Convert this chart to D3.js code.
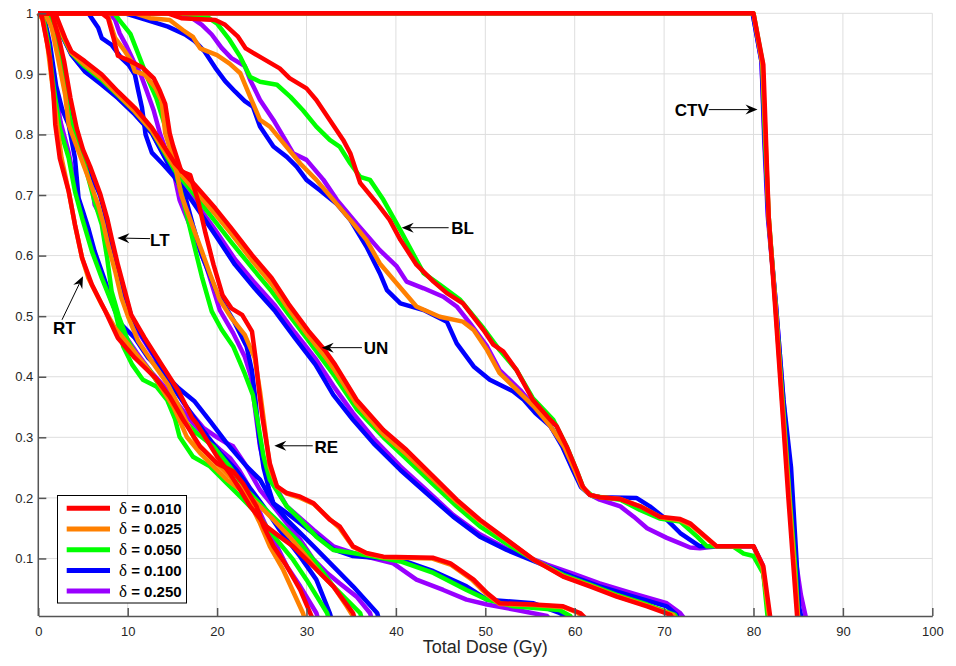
<!DOCTYPE html>
<html>
<head>
<meta charset="utf-8">
<script src="https://cdn.jsdelivr.net/npm/d3@7"></script>
<style>
  body { margin: 0; background: #fff; }
  svg { display: block; font-family: Arial, "Liberation Sans", Helvetica, sans-serif; }
</style>
</head>
<body>
<svg id="chart" width="956" height="666"></svg>
<script>
// Cumulative dose-volume histograms: [total dose (Gy), volume fraction]
// One array per structure and per delta value.

// ---- CTV ----
const CTV_d010 = [[0,1],[80,1],[81.1,0.915],[81.4,0.79],[81.7,0.664],[82.4,0.52],[83.15,0.362],[83.9,0.2],[84.5,0.08],[84.9,0]];
const CTV_d025 = [[0,1],[80,1],[81.0,0.915],[81.35,0.79],[81.7,0.664],[82.45,0.52],[83.2,0.362],[84.0,0.2],[84.6,0.08],[85.0,0]];
const CTV_d050 = [[0,1],[80,1],[81.0,0.92],[81.3,0.79],[81.7,0.664],[82.45,0.52],[83.25,0.362],[84.05,0.2],[84.7,0.08],[85.0,0]];
const CTV_d100 = [[0,1],[79.9,1],[80.9,0.92],[81.25,0.79],[81.65,0.664],[82.5,0.52],[83.35,0.362],[84.2,0.25],[84.8,0.1],[85.1,0.02],[85.4,0]];
const CTV_d250 = [[0,1],[79.9,1],[80.9,0.92],[81.2,0.79],[81.6,0.664],[82.5,0.52],[83.35,0.362],[84.1,0.22],[84.7,0.1],[85.3,0.04],[85.9,0]];

// ---- BL ----
const BL_d010 = [[0,1],[14.5,1],[16.0,0.992],[19.8,0.989],[20.9,0.981],[22.3,0.962],[23.2,0.942],[24.8,0.928],[27,0.909],[28.1,0.893],[30,0.876],[31.1,0.857],[32.6,0.824],[34.1,0.791],[34.9,0.769],[36,0.72],[37.9,0.686],[39.3,0.659],[40.5,0.626],[42.3,0.585],[44.2,0.557],[45.7,0.538],[47.5,0.521],[49.8,0.477],[50.9,0.453],[52,0.442],[53.5,0.411],[55.3,0.362],[57.2,0.33],[58,0.318],[59.1,0.285],[60.2,0.246],[60.9,0.219],[61.7,0.205],[62.8,0.201],[65.1,0.198],[67.3,0.186],[69.5,0.169],[71.8,0.165],[72.9,0.158],[75.9,0.12],[80,0.12],[81.1,0.087],[81.9,0]];
const BL_d025 = [[0,1],[10.8,1],[12.5,0.992],[14.7,0.989],[16.2,0.972],[17.3,0.961],[18.1,0.942],[20.0,0.931],[21.4,0.917],[22.6,0.901],[23.7,0.862],[24.8,0.824],[25.9,0.813],[27.4,0.786],[29.3,0.752],[31.1,0.725],[33.0,0.692],[34.9,0.659],[36.7,0.626],[38.2,0.587],[40.1,0.554],[42.3,0.516],[44.9,0.499],[47.5,0.491],[48.7,0.477],[50.2,0.444],[51.6,0.406],[53.9,0.373],[55.5,0.35],[57.3,0.318],[58.8,0.285],[60.0,0.246],[60.8,0.218],[61.7,0.205],[62.8,0.201],[65.1,0.198],[67.5,0.185],[69.6,0.168],[71.8,0.163],[73.0,0.155],[75.8,0.12],[80,0.12],[81,0.087],[81.8,0]];
const BL_d050 = [[0,1],[15.7,1],[18.8,0.995],[20.0,0.983],[21.4,0.956],[22.6,0.928],[23.7,0.895],[24.8,0.887],[26.7,0.882],[28.2,0.862],[29.6,0.84],[31.1,0.813],[32.6,0.791],[33.7,0.78],[34.9,0.752],[36.0,0.73],[37.1,0.725],[38.6,0.692],[40.5,0.642],[43.1,0.571],[44.9,0.552],[47.2,0.527],[49.8,0.48],[51.6,0.444],[53.5,0.411],[55.3,0.365],[57.6,0.329],[59.1,0.285],[60.2,0.246],[61,0.215],[62,0.203],[65.1,0.197],[67.3,0.18],[69.5,0.166],[71.8,0.161],[73.7,0.136],[74.8,0.12],[77.7,0.12],[78.9,0.108],[80.0,0.104],[81.1,0.075],[81.6,0]];
const BL_d100 = [[0,1],[9.7,1],[11.9,0.99],[14.5,0.978],[16.4,0.965],[17.5,0.954],[18.6,0.937],[19.8,0.91],[20.9,0.888],[22.0,0.871],[23.1,0.855],[24.0,0.846],[24.8,0.813],[26.3,0.78],[27.8,0.763],[28.9,0.747],[30.0,0.725],[31.5,0.708],[33.4,0.685],[34.9,0.659],[36.7,0.615],[38.2,0.571],[39.0,0.543],[40.5,0.521],[43.1,0.51],[45.7,0.491],[46.8,0.455],[48.7,0.417],[50.5,0.395],[53.1,0.376],[54.3,0.362],[55.6,0.34],[57.3,0.318],[58.6,0.285],[59.8,0.246],[60.7,0.218],[61.7,0.205],[62.8,0.201],[66.9,0.2],[68.4,0.186],[70.3,0.164],[71.8,0.142],[74,0.12],[80,0.12],[81,0.087],[81.8,0]];
const BL_d250 = [[0,1],[15.5,1],[17.2,0.992],[18.3,0.981],[19.4,0.965],[20.5,0.943],[21.6,0.926],[23.1,0.913],[23.7,0.89],[24.8,0.857],[26.3,0.824],[28.5,0.769],[30.0,0.758],[31.9,0.725],[33.4,0.692],[35.6,0.653],[38.2,0.609],[40.1,0.582],[41.2,0.557],[43.1,0.546],[45.3,0.532],[46.8,0.516],[48.3,0.488],[50.2,0.45],[51.6,0.411],[53.9,0.378],[55.5,0.35],[57.3,0.318],[58.8,0.285],[60.0,0.246],[60.8,0.218],[61.7,0.205],[62.8,0.197],[65.1,0.186],[66.6,0.169],[68.1,0.15],[70.3,0.134],[71.8,0.125],[72.9,0.118],[74.0,0.117],[76,0.12],[80,0.12],[81,0.09],[81.8,0]];

// ---- UN ----
const UN_d010 = [[0,1],[1.9,1],[3.0,0.959],[3.7,0.937],[5.2,0.921],[7.1,0.899],[8.9,0.871],[10.8,0.844],[12.7,0.811],[15.3,0.752],[17.5,0.717],[19.8,0.678],[21.6,0.645],[23.9,0.601],[26.1,0.563],[28.0,0.52],[30.2,0.476],[32.1,0.443],[33.2,0.42],[35.6,0.362],[38.6,0.312],[41.2,0.279],[44.2,0.235],[46.8,0.197],[49.4,0.164],[52.4,0.131],[55.4,0.098],[58.7,0.07],[61.7,0.054],[64.7,0.037],[68.1,0.021],[70.7,0.007],[71.0,0]];
const UN_d025 = [[0,1],[1.7,1],[2.8,0.962],[3.7,0.935],[5.2,0.915],[7.1,0.893],[8.9,0.866],[10.8,0.838],[12.7,0.806],[15.3,0.745],[17.5,0.708],[19.8,0.668],[21.6,0.636],[23.9,0.592],[26.1,0.553],[28.0,0.512],[30.2,0.468],[32.1,0.433],[33.2,0.41],[35.6,0.355],[38.6,0.305],[41.2,0.272],[44.2,0.23],[46.8,0.194],[49.4,0.162],[52.4,0.13],[55.4,0.098],[58.7,0.071],[61.7,0.055],[64.7,0.038],[68.1,0.022],[71.0,0.007],[71.3,0]];
const UN_d050 = [[0,1],[1.6,1],[2.7,0.963],[3.7,0.934],[5.2,0.912],[7.1,0.89],[8.9,0.865],[10.8,0.838],[12.7,0.806],[15.3,0.74],[17.5,0.7],[19.8,0.656],[21.6,0.622],[23.9,0.58],[26.1,0.541],[28.0,0.503],[30.2,0.46],[32.1,0.422],[33.2,0.4],[35.6,0.347],[38.6,0.3],[41.2,0.264],[44.2,0.222],[46.8,0.186],[49.4,0.153],[52.4,0.124],[55.4,0.098],[58.7,0.073],[61.7,0.057],[64.7,0.04],[68.1,0.024],[71.2,0.007],[71.5,0]];
const UN_d100 = [[0,1],[1.5,1],[2.6,0.965],[3.7,0.932],[5.2,0.904],[7.1,0.882],[8.9,0.86],[10.8,0.833],[12.7,0.802],[15.3,0.73],[17.5,0.684],[19.8,0.634],[22.0,0.585],[24.2,0.546],[26.5,0.508],[28.7,0.464],[31.0,0.42],[33.0,0.37],[35.2,0.329],[37.5,0.29],[40.5,0.246],[43.4,0.208],[46.4,0.169],[49.4,0.136],[52.4,0.114],[56.9,0.087],[59.8,0.07],[62.8,0.054],[66.6,0.037],[70.3,0.021],[71.4,0.007],[71.6,0]];
const UN_d250 = [[0,1],[1.5,1],[2.6,0.965],[3.7,0.932],[5.2,0.905],[7.1,0.884],[8.9,0.861],[10.8,0.834],[12.7,0.803],[15.3,0.733],[17.5,0.69],[19.8,0.642],[22.0,0.594],[24.2,0.555],[26.5,0.517],[28.7,0.473],[31.0,0.43],[33.0,0.385],[35.2,0.34],[37.5,0.298],[40.5,0.252],[43.4,0.213],[46.4,0.172],[49.4,0.14],[52.4,0.116],[56.9,0.09],[59.8,0.075],[62.8,0.059],[66.6,0.042],[70.3,0.026],[71.8,0.01],[72.3,0]];

// ---- RE ----
const RE_d010 = [[0,1],[7.1,1],[7.8,0.992],[8.4,0.96],[8.9,0.93],[10.3,0.921],[11.7,0.91],[12.9,0.893],[13.6,0.872],[14.2,0.85],[14.7,0.802],[15.1,0.78],[16.0,0.739],[17.0,0.733],[17.9,0.689],[18.7,0.637],[19.6,0.585],[20.6,0.535],[21.6,0.513],[22.8,0.502],[23.9,0.475],[24.3,0.431],[24.7,0.376],[25.1,0.33],[25.9,0.257],[26.7,0.219],[27.8,0.208],[29.3,0.202],[30.8,0.191],[32.6,0.164],[33.7,0.153],[35.2,0.12],[36.7,0.109],[38.6,0.103],[44.2,0.101],[46.1,0.092],[48.7,0.065],[50.2,0.043],[51.6,0.026],[55.4,0.024],[58.7,0.021],[60.6,0.01],[61.3,0]];
const RE_d025 = [[0,1],[7.5,1],[7.8,0.995],[8.6,0.959],[9.7,0.937],[10.4,0.921],[10.8,0.904],[11.9,0.899],[13.1,0.877],[13.8,0.855],[14.2,0.802],[15.3,0.75],[16.0,0.7],[17.2,0.651],[18.3,0.607],[19.2,0.57],[20.3,0.527],[21.6,0.497],[23.1,0.469],[24.2,0.431],[24.8,0.376],[25.3,0.32],[25.9,0.25],[26.7,0.218],[27.8,0.207],[29.3,0.2],[30.8,0.19],[32.6,0.165],[33.7,0.15],[35.2,0.119],[36.7,0.108],[38.6,0.102],[44.0,0.1],[46.1,0.09],[48.5,0.065],[50.0,0.043],[51.6,0.025],[55.4,0.023],[58.7,0.02],[60.4,0.01],[61.0,0]];
const RE_d050 = [[0,1],[8.5,1],[9.0,0.99],[10.3,0.966],[11.2,0.932],[12.3,0.89],[13.2,0.86],[14.2,0.813],[15.0,0.769],[15.6,0.725],[16.4,0.68],[17.3,0.625],[18.3,0.565],[19.4,0.508],[20.5,0.478],[21.8,0.45],[23.1,0.405],[24.0,0.37],[24.5,0.33],[25.2,0.268],[25.9,0.23],[27.8,0.186],[29.3,0.164],[31.1,0.136],[33.0,0.114],[35.2,0.109],[37.5,0.103],[40.5,0.095],[44.2,0.076],[47.9,0.048],[50.2,0.032],[53.1,0.021],[58.3,0.015],[59.5,0.005],[59.7,0]];
const RE_d100 = [[0,1],[5.6,1],[6.7,0.976],[7.1,0.959],[8.2,0.948],[9.3,0.926],[10.1,0.915],[10.8,0.899],[11.2,0.871],[11.6,0.844],[12.0,0.8],[12.7,0.77],[14.0,0.75],[15.2,0.73],[16.3,0.705],[17.3,0.65],[18.3,0.6],[20.0,0.538],[21.8,0.494],[23.3,0.45],[23.9,0.41],[24.3,0.36],[24.7,0.3],[25.2,0.25],[25.8,0.215],[26.3,0.191],[27.8,0.175],[29.3,0.158],[31.5,0.133],[33.0,0.115],[35.2,0.104],[40.5,0.098],[44.2,0.079],[47.9,0.054],[50.2,0.032],[55.4,0.026],[58.3,0.01],[59.6,0]];
const RE_d250 = [[0,1],[8.0,1],[8.6,0.989],[9.1,0.967],[9.9,0.945],[10.6,0.923],[11.4,0.901],[12.1,0.873],[12.9,0.84],[13.6,0.802],[14.4,0.769],[15.1,0.741],[15.8,0.692],[17.3,0.637],[18.8,0.582],[20.3,0.51],[21.8,0.472],[23.1,0.433],[23.8,0.4],[24.3,0.34],[24.8,0.285],[25.5,0.241],[26.3,0.224],[27.8,0.186],[30.8,0.147],[33.0,0.12],[35.2,0.109],[36.7,0.103],[39.7,0.092],[42.3,0.065],[45.3,0.048],[47.9,0.032],[50.2,0.024],[53.5,0.015],[56.9,0.005],[57.2,0]];

// ---- LT ----
const LT_d010 = [[0,1],[1.5,1],[2.2,0.965],[2.9,0.92],[3.6,0.86],[4.3,0.81],[5.0,0.775],[5.8,0.747],[6.9,0.703],[7.7,0.662],[8.2,0.629],[8.9,0.585],[9.7,0.541],[10.4,0.502],[11.9,0.464],[13.8,0.42],[15.7,0.376],[17.2,0.332],[17.7,0.323],[20.0,0.268],[21.4,0.241],[22.6,0.213],[23.7,0.186],[25.5,0.153],[27.0,0.136],[28.5,0.12],[30.0,0.098],[31.5,0.076],[33.0,0.054],[35.2,0.01],[35.4,0]];
const LT_d025 = [[0,1],[0.75,1],[1.5,0.976],[2.2,0.926],[3.0,0.866],[3.4,0.816],[4.5,0.772],[5.6,0.728],[6.7,0.684],[7.3,0.651],[7.8,0.618],[8.6,0.574],[9.3,0.53],[10.1,0.497],[11.2,0.458],[12.7,0.425],[14.5,0.387],[16.0,0.343],[17.7,0.29],[20.0,0.257],[21.8,0.23],[22.9,0.213],[24.8,0.186],[26.3,0.164],[28.1,0.136],[30.0,0.103],[31.5,0.076],[33.0,0.054],[34.5,0.021],[35.4,0]];
const LT_d050 = [[0,1],[1.2,1],[2.0,0.96],[2.7,0.9],[3.5,0.83],[4.3,0.79],[5.2,0.75],[6.3,0.689],[7.1,0.651],[7.7,0.596],[8.2,0.541],[9.0,0.5],[10.0,0.46],[11.2,0.43],[12.5,0.41],[14.0,0.375],[15.5,0.34],[17.7,0.307],[19.6,0.285],[21.4,0.252],[23.3,0.213],[25.5,0.18],[27.4,0.153],[29.3,0.125],[31.1,0.092],[33.0,0.054],[36.0,0.01],[36.2,0]];
const LT_d100 = [[0,1],[1.0,1],[1.8,0.965],[2.5,0.92],[3.2,0.86],[3.9,0.81],[4.8,0.775],[5.9,0.735],[6.9,0.7],[7.6,0.66],[8.2,0.62],[8.9,0.58],[9.6,0.54],[10.4,0.5],[11.7,0.465],[13.4,0.425],[15.0,0.385],[16.6,0.35],[18.5,0.31],[20.3,0.275],[22.2,0.245],[24.0,0.21],[25.5,0.18],[27.0,0.147],[29.3,0.103],[31.1,0.065],[32.6,0.01],[32.8,0]];
const LT_d250 = [[0,1],[1.3,1],[2.1,0.965],[2.8,0.91],[3.6,0.85],[4.4,0.79],[5.3,0.75],[6.0,0.72],[6.3,0.684],[7.1,0.662],[7.8,0.629],[8.6,0.596],[9.3,0.552],[9.7,0.519],[10.5,0.49],[11.8,0.46],[13.5,0.42],[15.2,0.38],[16.8,0.345],[18.5,0.315],[20.0,0.3],[21.1,0.29],[21.8,0.285],[23.3,0.252],[24.8,0.213],[26.3,0.186],[27.8,0.158],[29.3,0.131],[30.8,0.098],[32.3,0.076],[33.7,0.059],[35.6,0.037],[37.1,0.01],[37.3,0]];

// ---- RT ----
const RT_d010 = [[0,1],[0.4,0.995],[0.8,0.965],[1.3,0.926],[1.7,0.866],[1.9,0.816],[2.4,0.761],[3.4,0.706],[4.1,0.651],[4.9,0.596],[6.0,0.552],[7.5,0.508],[8.9,0.464],[10.8,0.431],[13.1,0.398],[14.7,0.367],[16.2,0.329],[18.1,0.285],[20.0,0.257],[21.8,0.244],[22.9,0.224],[24.4,0.186],[25.2,0.153],[26.3,0.12],[27.8,0.087],[29.3,0.048],[30.4,0.01],[30.7,0]];
const RT_d025 = [[0,1],[0.5,0.99],[1.0,0.95],[1.5,0.89],[2.1,0.816],[2.6,0.761],[3.4,0.706],[4.1,0.651],[4.9,0.596],[5.6,0.563],[7.1,0.519],[8.6,0.48],[10.1,0.453],[11.9,0.42],[13.2,0.395],[15.1,0.351],[16.6,0.301],[18.1,0.274],[19.6,0.252],[21.1,0.23],[22.6,0.213],[23.7,0.191],[24.8,0.158],[25.9,0.12],[27.4,0.081],[29.6,0.01],[29.8,0]];
const RT_d050 = [[0,1],[0.6,0.99],[1.1,0.95],[1.7,0.88],[2.4,0.81],[3.4,0.761],[4.1,0.706],[4.9,0.662],[6.0,0.607],[7.1,0.563],[8.6,0.508],[9.5,0.45],[10.5,0.42],[11.7,0.395],[13.2,0.384],[14.4,0.362],[15.3,0.33],[15.8,0.301],[17.3,0.268],[19.2,0.252],[21.1,0.224],[22.6,0.202],[24.4,0.175],[25.5,0.153],[27.0,0.125],[28.5,0.098],[30.0,0.065],[32.3,0.01],[32.5,0]];
const RT_d100 = [[0,1],[0.7,0.99],[1.3,0.95],[2.0,0.88],[2.7,0.84],[3.4,0.816],[4.1,0.761],[4.5,0.695],[5.0,0.673],[5.6,0.645],[6.3,0.607],[7.5,0.557],[8.4,0.519],[8.6,0.508],[9.3,0.486],[10.8,0.464],[12.3,0.431],[14.2,0.403],[15.7,0.381],[17.5,0.359],[19.3,0.325],[21.1,0.29],[23.3,0.252],[24.8,0.23],[26.3,0.191],[27.8,0.164],[30.8,0.12],[33.0,0.087],[35.2,0.054],[37.9,0.01],[38.1,0]];
const RT_d250 = [[0,1],[0.6,0.99],[1.2,0.95],[1.8,0.88],[2.5,0.82],[3.4,0.77],[4.2,0.71],[5.0,0.665],[6.1,0.61],[7.3,0.56],[8.6,0.51],[9.6,0.47],[11.0,0.44],[12.5,0.41],[14.0,0.385],[15.6,0.355],[17.2,0.325],[18.8,0.3],[20.3,0.28],[21.5,0.265],[22.5,0.245],[23.5,0.22],[24.5,0.185],[25.5,0.153],[26.7,0.12],[27.8,0.087],[29.3,0.054],[31.1,0.01],[31.3,0]];

// ---- legend / series definitions ----
const deltaLabels = ["0.010", "0.025", "0.050", "0.100", "0.250"];
const deltaColors = ["#ff0000", "#ff8000", "#00ff00", "#0000ff", "#9900ff"];
const structureNames = ["CTV", "BL", "UN", "RE", "LT", "RT"];
const xTicks = [0, 10, 20, 30, 40, 50, 60, 70, 80, 90, 100];
const yTicks = [0.1, 0.2, 0.3, 0.4, 0.5, 0.6, 0.7, 0.8, 0.9, 1];
const yTickLabels = ["0.1", "0.2", "0.3", "0.4", "0.5", "0.6", "0.7", "0.8", "0.9", "1"];

// curves per structure, ordered like deltaLabels
const curvesByStructure = {
  CTV: [CTV_d010, CTV_d025, CTV_d050, CTV_d100, CTV_d250],
  BL:  [BL_d010,  BL_d025,  BL_d050,  BL_d100,  BL_d250],
  UN:  [UN_d010,  UN_d025,  UN_d050,  UN_d100,  UN_d250],
  RE:  [RE_d010,  RE_d025,  RE_d050,  RE_d100,  RE_d250],
  LT:  [LT_d010,  LT_d025,  LT_d050,  LT_d100,  LT_d250],
  RT:  [RT_d010,  RT_d025,  RT_d050,  RT_d100,  RT_d250]
};

// structure labels with arrows: label position, arrow tail and arrow tip in data units
const labelText   = ["CTV", "BL", "UN", "RE", "LT", "RT"];
const labelAnchor = [[71.2, 0.841], [46.2, 0.646], [36.4, 0.448], [30.9, 0.285], [12.5, 0.626], [2.9, 0.481]];
const arrowTail   = [[75.0, 0.841], [45.9, 0.646], [36.2, 0.448], [30.7, 0.286], [12.5, 0.628], [2.65, 0.494]];
const arrowTip    = [[80.45, 0.841], [40.65, 0.646], [31.7, 0.448], [26.4, 0.286], [8.85, 0.629], [5.0, 0.566]];
const labelAlign  = ["start", "start", "start", "start", "start", "middle"];

// ---- drawing ----
const svg = d3.select("#chart");
const plot = { left: 38.3, right: 932.3, top: 13.3, bottom: 616 };

const x = d3.scaleLinear().domain([0, 100]).range([plot.left, plot.right]);
const y = d3.scaleLinear().domain([0.005, 1]).range([plot.bottom, plot.top]);

// grid
const grid = svg.append("g").attr("stroke", "#dedede").attr("stroke-width", 1);
grid.selectAll("line.v").data(xTicks).join("line")
  .attr("x1", d => x(d)).attr("x2", d => x(d))
  .attr("y1", plot.top).attr("y2", plot.bottom);
grid.selectAll("line.h").data(yTicks).join("line")
  .attr("x1", plot.left).attr("x2", plot.right)
  .attr("y1", d => y(d)).attr("y2", d => y(d));

// clip curves at the bottom axis
svg.append("clipPath").attr("id", "plotClip")
  .append("rect")
  .attr("x", plot.left - 6).attr("y", 0)
  .attr("width", plot.right - plot.left + 12).attr("height", plot.bottom);

const line = d3.line().x(d => x(d[0])).y(d => y(d[1]));

// flatten into series; draw the largest delta first so delta = 0.010 ends on top
const series = [];
for (let k = deltaLabels.length - 1; k >= 0; k--) {
  structureNames.forEach(name => {
    series.push({ name, delta: deltaLabels[k], color: deltaColors[k], points: curvesByStructure[name][k] });
  });
}

svg.append("g").attr("clip-path", "url(#plotClip)")
  .selectAll("path").data(series).join("path")
  .attr("d", d => line(d.points))
  .attr("fill", "none")
  .attr("stroke", d => d.color)
  .attr("stroke-width", 4.5)
  .attr("stroke-linejoin", "round")
  .attr("stroke-linecap", "butt");

// axes
const axisColor = "#555";
const xAxis = d3.axisBottom(x).tickValues(xTicks).tickFormat(d3.format("d"))
  .tickSizeInner(-8).tickSizeOuter(0).tickPadding(10.3);
const gx = svg.append("g").attr("transform", `translate(0,${plot.bottom})`).call(xAxis);

const yAxis = d3.axisLeft(y).tickValues(yTicks).tickFormat((d, i) => yTickLabels[i])
  .tickSizeInner(-8).tickSizeOuter(0).tickPadding(5);
const gy = svg.append("g").attr("transform", `translate(${plot.left},0)`).call(yAxis);

[gx, gy].forEach(g => {
  g.select(".domain").attr("stroke", axisColor).attr("stroke-width", 1.5);
  g.selectAll(".tick line").attr("stroke", axisColor).attr("stroke-width", 1.5);
  g.selectAll(".tick text").attr("fill", "#262626")
    .style("font-size", "13px").style("font-family", "Arial, 'Liberation Sans', sans-serif");
});
// the y axis line spans the full height
gy.select(".domain").attr("d", `M0,${plot.bottom}V${plot.top}`);

svg.append("text")
  .attr("x", (plot.left + plot.right) / 2).attr("y", 653)
  .attr("text-anchor", "middle")
  .attr("fill", "#262626")
  .style("font-size", "18px")
  .text("Total Dose (Gy)");

// structure labels and arrows
const annot = svg.append("g");
labelText.forEach((t, i) => {
  const [tx, ty] = [x(arrowTail[i][0]), y(arrowTail[i][1])];
  const [hx, hy] = [x(arrowTip[i][0]), y(arrowTip[i][1])];
  const len = Math.hypot(hx - tx, hy - ty);
  const ux = (hx - tx) / len, uy = (hy - ty) / len;
  const nx = -uy, ny = ux;
  const L = 12, W = 5, notch = 4;
  const bx = hx - (L - notch) * ux, by = hy - (L - notch) * uy;
  annot.append("line")
    .attr("x1", tx).attr("y1", ty).attr("x2", bx).attr("y2", by)
    .attr("stroke", "#000").attr("stroke-width", 1);
  annot.append("path")
    .attr("d", `M${hx},${hy}L${hx - L * ux + W * nx},${hy - L * uy + W * ny}L${bx},${by}L${hx - L * ux - W * nx},${hy - L * uy - W * ny}Z`)
    .attr("fill", "#000");
  annot.append("text")
    .attr("x", x(labelAnchor[i][0])).attr("y", y(labelAnchor[i][1]))
    .attr("dy", "0.36em")
    .attr("text-anchor", labelAlign[i])
    .attr("fill", "#000")
    .style("font-size", "17px").style("font-weight", "bold")
    .text(t);
});

// legend
const legend = svg.append("g");
legend.append("rect")
  .attr("x", 57.5).attr("y", 495.5).attr("width", 129).attr("height", 107.5)
  .attr("fill", "#fff").attr("stroke", "#000").attr("stroke-width", 1);
deltaLabels.forEach((lab, i) => {
  const cy = 508.3 + i * 20.7;
  legend.append("line")
    .attr("x1", 66.7).attr("x2", 110).attr("y1", cy).attr("y2", cy)
    .attr("stroke", deltaColors[i]).attr("stroke-width", 5);
  const txt = legend.append("text")
    .attr("x", 119).attr("y", cy).attr("dy", "0.36em")
    .attr("fill", "#000").style("font-size", "15px");
  txt.append("tspan").style("font-family", "'Liberation Serif', 'DejaVu Serif', serif").style("font-size", "17px").text("δ");
  txt.append("tspan").style("font-weight", "bold").text(" = " + lab);
});
</script>
</body>
</html>
